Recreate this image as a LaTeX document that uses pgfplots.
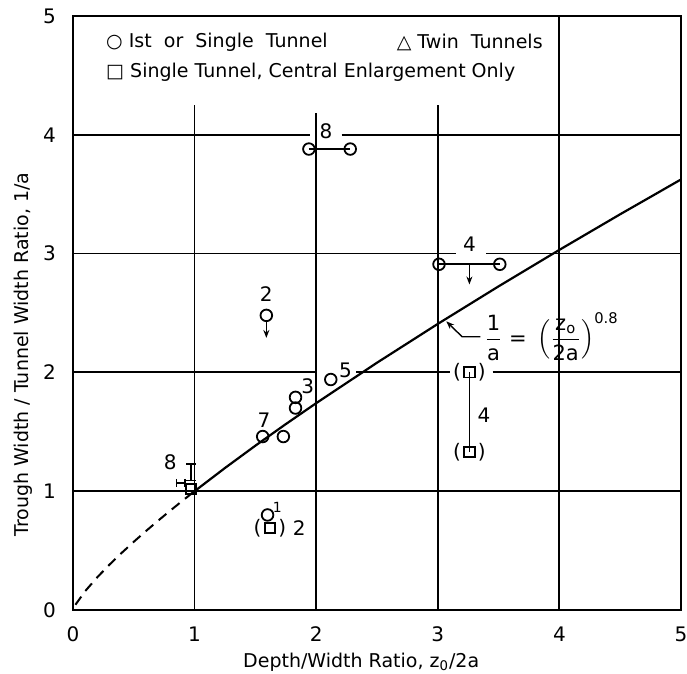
\documentclass[border=0pt]{standalone}
\usepackage{fontspec}
\setmainfont{DejaVu Sans}
\setsansfont{DejaVu Sans}
\usepackage{amsmath}
\usepackage{pgfplots}
\pgfplotsset{compat=1.18}
\usetikzlibrary{arrows.meta}
\begin{document}
\begin{tikzpicture}
\path[use as bounding box] (-36.5pt,-32pt) rectangle (307pt,305pt);
\begin{axis}[
  scale only axis, width=304pt, height=297pt,
  at={(0,0)}, anchor=south west,
  xmin=0, xmax=5, ymin=0, ymax=5,
  xtick={0,1,2,3,4,5}, ytick={0,1,2,3,4,5},
  major tick length=0pt,
  /pgf/number format/assume math mode=true,
  tick label style={font=\fontsize{10}{12}\selectfont},
  xticklabel style={yshift=-5pt},
  yticklabel style={xshift=-5pt},
  axis line style={line width=1pt},
  xlabel={Depth/Width Ratio, z\textsubscript{0}/2a},
  ylabel={Trough Width / Tunnel Width Ratio, 1/a},
  label style={font=\fontsize{9.5}{11}\selectfont},
  xlabel style={at={(axis description cs:0.474,0)}, anchor=center, yshift=-26pt},
  ylabel style={at={(axis description cs:-0.0825,0.43)}, anchor=center},
  clip=false,
]
% grid lines (with gaps as in the original)
\begin{scope}[line width=0.9pt]
\draw (axis cs:1,0) -- (axis cs:1,4.25);
\draw (axis cs:2,0) -- (axis cs:2,4.18);
\draw (axis cs:3,0) -- (axis cs:3,4.25);
\draw (axis cs:4,0) -- (axis cs:4,5);
\draw (axis cs:0,1) -- (axis cs:5,1);
\draw (axis cs:0,2) -- (axis cs:2.0,2);
\draw (axis cs:2.33,2) -- (axis cs:3.1,2);
\draw (axis cs:3.45,2) -- (axis cs:5,2);
\draw (axis cs:0,3) -- (axis cs:3.15,3);
\draw (axis cs:3.4,3) -- (axis cs:5,3);
\draw (axis cs:0,4) -- (axis cs:1.95,4);
\draw (axis cs:2.21,4) -- (axis cs:5,4);
\end{scope}

% curve 1/a = (z0/2a)^0.8
\addplot[line width=1pt, dash pattern=on 5pt off 3.5pt] coordinates {
 (0.02,0.044) (0.1,0.1585) (0.2,0.2760) (0.3,0.3817) (0.4,0.4804) (0.5,0.5743)
 (0.6,0.6645) (0.7,0.7518) (0.8,0.8365) (0.9,0.9192) (0.97,0.9760)};
\addplot[line width=1.1pt] coordinates {
 (0.97,0.9760) (1,1) (1.25,1.1954) (1.5,1.3832) (1.75,1.5647) (2,1.7411)
 (2.5,2.0814) (3,2.4082) (3.5,2.7243) (4,3.0314) (4.5,3.3311) (5,3.6239)};

% connectors
\addplot[line width=0.9pt] coordinates {(1.94,3.88) (2.28,3.88)};
\addplot[line width=0.9pt] coordinates {(3.01,2.91) (3.51,2.91)};
\addplot[line width=0.9pt] coordinates {(3.26,2.0) (3.26,1.33)};
% arrows (upper bounds)
\addplot[line width=0.8pt, -{Stealth[length=4pt,width=3pt]}] coordinates {(1.59,2.42) (1.59,2.29)};
\addplot[line width=0.8pt, -{Stealth[length=4pt,width=3pt]}] coordinates {(3.26,2.91) (3.26,2.74)};
% range bars for case 8 near (1,1)
\addplot[line width=0.8pt, mark=-, mark size=2.5pt] coordinates {(0.97,1.09) (0.97,1.23)};
\addplot[line width=0.8pt, mark=|, mark size=2pt] coordinates {(0.85,1.07) (0.92,1.07)};

% open circles: 1st or single tunnel
\addplot[only marks, mark=o, mark size=2.9pt, line width=0.9pt, mark options={fill=white}] coordinates {
 (1.59,2.48) (1.94,3.88) (2.28,3.88) (3.01,2.91) (3.51,2.91)
 (1.83,1.79) (1.83,1.70) (2.12,1.94) (1.56,1.46) (1.73,1.46) (1.60,0.80)};
% open squares: central enlargement only
\addplot[only marks, mark=square, mark size=2.6pt, line width=0.9pt, mark options={fill=white}] coordinates {
 (1.62,0.69) (3.26,2.0) (3.26,1.33) (0.97,1.02)};

% parentheses round the squares
\node[font=\fontsize{10}{12}\selectfont] at (axis cs:1.62,0.69) {(\hspace{8.5pt})};
\node[font=\fontsize{10}{12}\selectfont] at (axis cs:3.26,2.0) {(\hspace{8.5pt})};
\node[font=\fontsize{10}{12}\selectfont] at (axis cs:3.26,1.33) {(\hspace{8.5pt})};

% case numbers
\begin{scope}[every node/.style={font=\fontsize{10}{12}\selectfont, inner sep=0pt}]
\node at (axis cs:1.59,2.66) {2};
\node at (axis cs:2.08,4.03) {8};
\node at (axis cs:3.26,3.08) {4};
\node at (axis cs:1.93,1.88) {3};
\node at (axis cs:2.24,2.02) {5};
\node at (axis cs:1.57,1.60) {7};
\node at (axis cs:0.80,1.24) {8};
\node[font=\fontsize{7}{8}\selectfont] at (axis cs:1.68,0.86) {1};
\node at (axis cs:1.86,0.69) {2};
\node at (axis cs:3.38,1.64) {4};
\end{scope}

% formula annotation
\draw[line width=0.7pt, {Stealth[length=4pt,width=3pt]}-] (axis cs:3.07,2.43) -- (axis cs:3.20,2.30) -- (axis cs:3.35,2.30);
\node[font=\fontsize{10.5}{12}\selectfont, anchor=west, inner sep=0pt] at (axis cs:3.38,2.30)
  {$\displaystyle\frac{\text{1}}{\text{a}}\ \text{=}\ \left(\frac{\text{z}_{\text{o}}}{\text{2a}}\right)^{\text{0.8}}$};

% legend text
\begin{scope}[every node/.style={font=\fontsize{9.5}{11}\selectfont, anchor=west, inner sep=0pt}]
\node at (axis cs:0.27,4.78) {○ Ist\ \ or\ \ Single\ \ Tunnel};
\node at (axis cs:2.66,4.78) {△ Twin\ \ Tunnels};
\node at (axis cs:0.27,4.53) {□ Single Tunnel, Central Enlargement Only};
\end{scope}
\end{axis}
\end{tikzpicture}
\end{document}
